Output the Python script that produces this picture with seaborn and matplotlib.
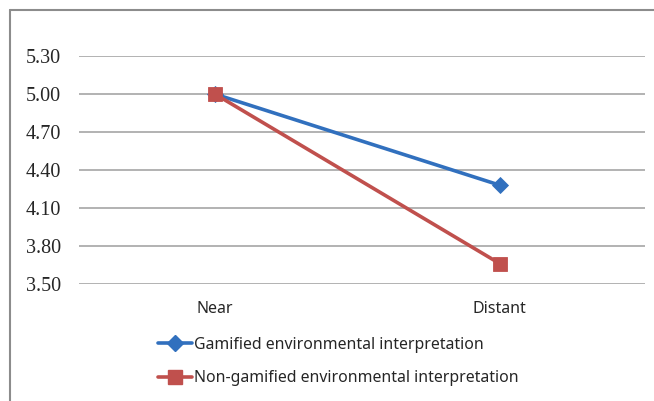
import pandas as pd
import matplotlib.pyplot as plt
import matplotlib.lines as mlines
import seaborn as sns

# values
distance = ['Near', 'Distant']
gamified = [5.00, 4.28]
non_gamified = [5.00, 3.66]
groups = ['Gamified environmental interpretation', 'Non-gamified environmental interpretation']
yticks = [3.50, 3.80, 4.10, 4.40, 4.70, 5.00, 5.30]

# long form table for seaborn
df = pd.DataFrame({
    'distance': distance * 2,
    'score': gamified + non_gamified,
    'group': [groups[0]] * 2 + [groups[1]] * 2,
})

sns.set_style('white')

fig = plt.figure(figsize=(6.54, 4.01), dpi=100)
ax = fig.add_axes([0.121, 0.292, 0.865, 0.568])

palette = {groups[0]: '#3170BE', groups[1]: '#C0504D'}
sns.lineplot(data=df, x='distance', y='score', hue='group', style='group',
             markers={groups[0]: 'D', groups[1]: 's'}, dashes=False,
             palette=palette, linewidth=2.6, markersize=9, sort=False,
             markeredgewidth=0.6, ax=ax, legend=False)
# diamond a bit smaller than the square, like the original
ax.lines[0].set_markersize(8)
ax.lines[0].set_markeredgecolor('#3170BE')
ax.lines[1].set_markeredgecolor('#C0504D')
ax.lines[1].set_markersize(10.5)

ax.set_ylim(3.50, 5.30)
ax.set_xlim(-0.477, 1.509)
ax.set_yticks(yticks)
ax.set_yticklabels([f'{v:.2f}' for v in yticks], family='Liberation Serif', fontsize=14.5)
ax.set_xticks([0, 1])
ax.set_xticklabels(distance, family='Noto Sans', fontsize=11.5)
ax.tick_params(axis='y', length=0, pad=13)
ax.tick_params(axis='x', length=0, pad=12.5)
ax.set_xlabel('')
ax.set_ylabel('')
ax.grid(axis='y', color='#A6A6A6', linewidth=1.2)
ax.set_axisbelow(True)
for s in ax.spines.values():
    s.set_visible(False)

# legend below the plot
handles = [
    mlines.Line2D([], [], color='#3170BE', marker='D', markersize=8, linewidth=2.6),
    mlines.Line2D([], [], color='#C0504D', marker='s', markersize=10.5, linewidth=2.6),
]
fig.legend(handles, groups, loc='upper left', bbox_to_anchor=(0.242, 0.16),
           frameon=False, prop={'family': 'Noto Sans', 'size': 11.4},
           handlelength=2.1, handletextpad=0.15, labelspacing=1.1,
           borderaxespad=0, borderpad=0)

# outer chart border (top and left visible)
fig.add_artist(mlines.Line2D([0.0153, 1.0], [0.975, 0.975], color='#8C8C8C', linewidth=1.5))
fig.add_artist(mlines.Line2D([0.0153, 0.0153], [0.0, 0.975], color='#8C8C8C', linewidth=1.5))

fig.savefig('out.png', dpi=100)
